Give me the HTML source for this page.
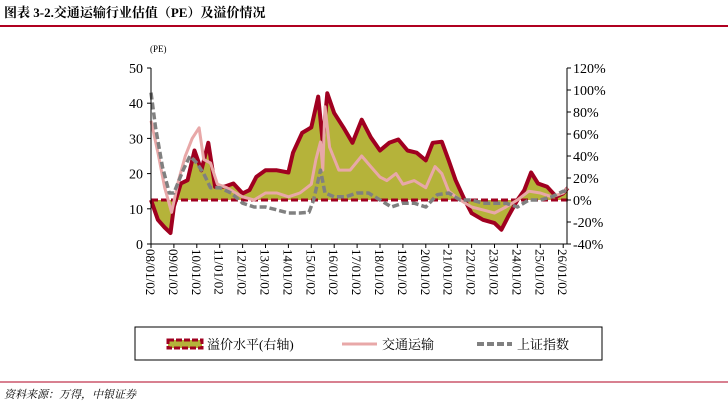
<!DOCTYPE html>
<html><head><meta charset="utf-8"><style>
body{margin:0;background:#fff;width:728px;height:406px;overflow:hidden;font-family:"Liberation Serif","Noto Serif CJK SC",serif;}
</style></head><body>
<svg width="728" height="406" xmlns="http://www.w3.org/2000/svg">
<text x="4" y="17" font-size="13" font-weight="bold" fill="#000" font-family="Liberation Serif, Noto Serif CJK SC, serif">图表 3-2.交通运输行业估值（PE）及溢价情况</text>
<line x1="0" y1="26" x2="728" y2="26" stroke="#b00020" stroke-width="2"/>
<text x="150" y="52" font-size="9">(PE)</text>
<g id="plot"></g>
<rect x="135" y="327" width="467" height="33" fill="none" stroke="#000" stroke-width="1"/>
<g>
<rect x="168" y="340" width="34" height="8" fill="#b5b33a" stroke="#a00020" stroke-width="3" stroke-dasharray="6,2"/>
<text x="207" y="349" font-size="13" font-family="Liberation Serif, Noto Serif CJK SC, serif">溢价水平(右轴)</text></g>
<g>
<line x1="342" y1="344" x2="377" y2="344" stroke="#e8a8a8" stroke-width="3"/>
<text x="382" y="349" font-size="13" font-family="Liberation Serif, Noto Serif CJK SC, serif">交通运输</text></g>
<g>
<line x1="477" y1="344" x2="512" y2="344" stroke="#808080" stroke-width="4" stroke-dasharray="7,3"/>
<text x="517" y="349" font-size="13" font-family="Liberation Serif, Noto Serif CJK SC, serif">上证指数</text></g>
<line x1="0" y1="382" x2="728" y2="382" stroke="#b00020" stroke-width="1"/>
<text x="4" y="398" font-size="11" font-style="italic" font-family="Liberation Serif, Noto Serif CJK SC, serif">资料来源：万得，中银证券</text>
</svg>
<script>
const premDates=[2008.0,2008.3,2008.6,2008.85,2009.0,2009.3,2009.6,2009.9,2010.2,2010.5,2010.8,2011.2,2011.6,2012.0,2012.3,2012.6,2013.0,2013.5,2014.0,2014.2,2014.6,2015.0,2015.3,2015.5,2015.7,2016.0,2016.4,2016.8,2017.2,2017.6,2018.0,2018.4,2018.8,2019.2,2019.6,2020.0,2020.3,2020.7,2021.0,2021.3,2021.7,2022.0,2022.5,2023.0,2023.3,2023.6,2024.0,2024.3,2024.6,2024.9,2025.3,2025.7,2026.0,2026.2];
const premValues=[0,-18,-25,-30,-6,15,18,45,27,52,12,12,15,6,9,21,27,27,25,43,61,66,94,52,97,79,66,52,73,57,45,52,55,45,43,36,52,53,36,18,0,-12,-18,-21,-27,-15,0,9,25,15,12,3,6,11];
const peDates=[2008.0,2008.3,2008.6,2008.9,2009.2,2009.5,2009.8,2010.1,2010.3,2010.6,2010.9,2011.3,2011.7,2012.0,2012.5,2013.0,2013.5,2014.0,2014.5,2015.0,2015.2,2015.4,2015.5,2015.6,2015.8,2016.2,2016.7,2017.2,2017.6,2018.0,2018.3,2018.7,2019.0,2019.5,2020.0,2020.4,2020.7,2021.0,2021.5,2022.0,2022.5,2023.0,2023.5,2024.0,2024.5,2025.0,2025.5,2026.0,2026.2];
const transportPE=[35,26,16,9,18,25,30,33,24,23,17,16,14.5,13.4,12.5,14.5,14.5,13.4,14.5,17,24,29,21,39,27.5,21,21,25,22,19,18,20,17,18,16,22,20,15,12.5,10.5,9.7,8.8,10.5,12.5,15,14.5,13.4,14.5,16];
const sseDates=[2008.0,2008.2,2008.5,2008.8,2009.0,2009.4,2009.7,2010.0,2010.3,2010.6,2011.0,2011.5,2012.0,2012.5,2013.0,2013.5,2014.0,2014.5,2014.9,2015.1,2015.4,2015.6,2016.0,2016.5,2017.0,2017.5,2018.0,2018.5,2019.0,2019.5,2020.0,2020.5,2021.0,2021.5,2022.0,2022.5,2023.0,2023.5,2024.0,2024.5,2025.0,2025.5,2026.0,2026.2];
const ssePE=[43,33,22,14.5,14.5,21,25,23,20,16,16,14.5,11.6,10.5,10.5,9.7,8.8,8.8,9,12.5,21,14.5,13.4,13.4,14.5,14.5,12.5,10.5,11.6,11.6,10.5,14,14.5,12.5,12.5,11.6,11.6,11.6,10.5,12.5,12.5,13.4,15,15];
const leftTicks=[0,10,20,30,40,50];
const rightTicks=[-40,-20,0,20,40,60,80,100,120];
const xTickYears=[2008,2009,2010,2011,2012,2013,2014,2015,2016,2017,2018,2019,2020,2021,2022,2023,2024,2025,2026];

const NS="http://www.w3.org/2000/svg";
const L=151,R=567,T=68,B=244;
const xs=d=>L+(d-2008)*22.9;
const yl=v=>B-(v-0)/50*(B-T);
const yr=v=>B-(v+40)/160*(B-T);
const g=document.getElementById('plot');
function mk(tag,attrs){const e=document.createElementNS(NS,tag);for(const k in attrs)e.setAttribute(k,attrs[k]);g.appendChild(e);return e;}
// premium fill
let pts=premDates.map((d,i)=>xs(d).toFixed(1)+','+yr(premValues[i]).toFixed(1));
let area=mk('path',{d:'M'+xs(premDates[0])+','+yr(0)+' L'+pts.join(' L')+' L'+xs(premDates[premDates.length-1])+','+yr(0)+'Z',fill:'#b5b33a'});


let zl=mk('line',{x1:L,x2:xs(2026.2),y1:yr(0),y2:yr(0),stroke:'#a00020','stroke-width':3,'stroke-dasharray':'7,3'});


let pl=mk('polyline',{points:pts.join(' '),fill:'none',stroke:'#a00020','stroke-width':4,'stroke-linejoin':'round'});


let tl=mk('polyline',{points:peDates.map((d,i)=>xs(d).toFixed(1)+','+yl(transportPE[i]).toFixed(1)).join(' '),fill:'none',stroke:'#e8a8a8','stroke-width':3,'stroke-linejoin':'round'});


let sl=mk('polyline',{points:sseDates.map((d,i)=>xs(d).toFixed(1)+','+yl(ssePE[i]).toFixed(1)).join(' '),fill:'none',stroke:'#808080','stroke-width':3.5,'stroke-dasharray':'7,3','stroke-linejoin':'round'});


// axes
let ax=mk('path',{d:`M${L},${T}V${B}H${R}V${T}`,fill:'none',stroke:'#000','stroke-width':1});


leftTicks.forEach(v=>{
 mk('line',{x1:L-4,x2:L,y1:yl(v),y2:yl(v),stroke:'#000'});
 const t=mk('text',{x:L-8,y:yl(v)+5,'text-anchor':'end','font-size':14});t.textContent=v;
 
 
});
rightTicks.forEach(v=>{
 mk('line',{x1:R,x2:R+4,y1:yr(v),y2:yr(v),stroke:'#000'});
 const t=mk('text',{x:R+6,y:yr(v)+5,'font-size':14});t.textContent=v+'%';
 
 
});
xTickYears.forEach(y=>{
 const x=xs(y);
 mk('line',{x1:x,x2:x,y1:B,y2:B+4,stroke:'#000'});
 const t=mk('text',{x:0,y:0,'font-size':13,transform:`translate(${x-5},${B+5}) rotate(90)`});
 t.textContent=String(y).slice(2)+'/01/02';
 
 
});
</script>
</body></html>
